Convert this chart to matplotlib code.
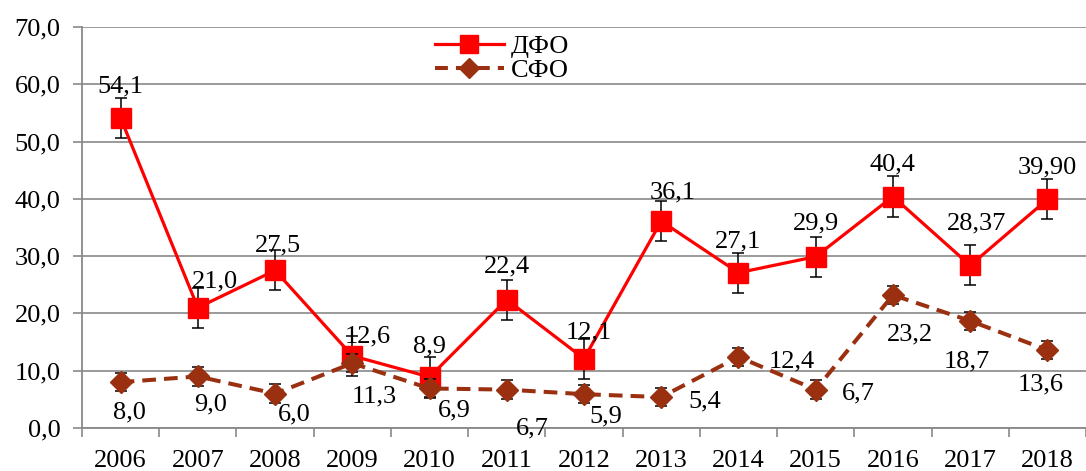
import matplotlib
matplotlib.use('Agg')
import matplotlib.pyplot as plt
from matplotlib.ticker import MultipleLocator, FixedLocator, FuncFormatter
from matplotlib.lines import Line2D

plt.rcParams['font.family'] = ['Liberation Serif', 'DejaVu Serif']

years = ['2006', '2007', '2008', '2009', '2010', '2011', '2012',
         '2013', '2014', '2015', '2016', '2017', '2018']
dfo = [54.1, 21.0, 27.5, 12.6, 8.9, 22.4, 12.1, 36.1, 27.1, 29.9, 40.4, 28.37, 39.90]
sfo = [8.0, 9.0, 6.0, 11.3, 6.9, 6.7, 5.9, 5.4, 12.4, 6.7, 23.2, 18.7, 13.6]
dfo_labels = ['54,1', '21,0', '27,5', '12,6', '8,9', '22,4', '12,1',
              '36,1', '27,1', '29,9', '40,4', '28,37', '39,90']
sfo_labels = ['8,0', '9,0', '6,0', '11,3', '6,9', '6,7', '5,9',
              '5,4', '12,4', '6,7', '23,2', '18,7', '13,6']
dfo_err = 3.5
sfo_err = 1.6
series_names = ['ДФО', 'СФО']

# label offsets (pixels, centre of digits relative to point; up positive)
dfo_off = [(0, 35), (17, 29), (3, 28), (15, 22), (0, 34), (0, 36), (5, 29),
           (11, 32), (0, 34), (0, 36), (0, 35), (6, 45), (0, 35)]
sfo_off = [(9, -27), (13, -25), (19, -18), (22, -30), (25, -19), (26, -36), (22, -19),
           (44, -1), (53, -2), (43, -1), (17, -36), (-3, -38), (-7, -31)]

RED = '#FF0000'
BROWN = '#9B3011'
GRID = '#898989'
FS = 19

W, H = 1086, 471
fig = plt.figure(figsize=(W / 100, H / 100), dpi=100)
ax = fig.add_axes([82 / W, (H - 428) / H, (1086 - 82) / W, 401.1 / H])

x = list(range(len(years)))

ax.errorbar(x, dfo, yerr=dfo_err, fmt='none', ecolor='black', elinewidth=1.1,
            capsize=4, capthick=1.1, zorder=3)
l1, = ax.plot(x, dfo, color=RED, lw=2.3, marker='s', markersize=15,
              markerfacecolor=RED, markeredgecolor=RED, zorder=4, label=series_names[0])
ax.errorbar(x, sfo, yerr=sfo_err, fmt='none', ecolor='black', elinewidth=1.1,
            capsize=4, capthick=1.1, zorder=5)
l2, = ax.plot(x, sfo, color=BROWN, lw=2.9, ls=(0, (3.4, 2.0)), marker='D', markersize=11.5,
              markerfacecolor=BROWN, markeredgecolor=BROWN, zorder=6, label=series_names[1])

half = 9
for i, (v, lab, (dx, dy)) in enumerate(zip(dfo, dfo_labels, dfo_off)):
    ax.annotate(lab, (i, v), xytext=(dx, dy - half), textcoords='offset pixels',
                ha='center', va='baseline', fontsize=FS, color='black', zorder=10,
                annotation_clip=False)
for i, (v, lab, (dx, dy)) in enumerate(zip(sfo, sfo_labels, sfo_off)):
    ax.annotate(lab, (i, v), xytext=(dx, dy - half), textcoords='offset pixels',
                ha='center', va='baseline', fontsize=FS, color='black', zorder=10,
                annotation_clip=False)

ax.set_xlim(-0.5, len(years) - 0.5)
ax.set_ylim(0, 70)
ax.yaxis.set_major_locator(MultipleLocator(10))
ax.yaxis.set_major_formatter(FuncFormatter(lambda v, p: f'{v:.1f}'.replace('.', ',')))
ax.set_xticks(x)
ax.set_xticklabels(years)
ax.xaxis.set_minor_locator(FixedLocator([i - 0.5 for i in range(len(years) + 1)]))

ax.grid(axis='y', color=GRID, lw=1.2, zorder=0)
ax.set_axisbelow(True)
for s in ['top', 'right']:
    ax.spines[s].set_visible(False)
for s in ['left', 'bottom']:
    ax.spines[s].set_color(GRID)
    ax.spines[s].set_linewidth(1.3)

ax.tick_params(axis='y', which='major', length=6.5, width=1.2, color=GRID,
               labelsize=FS, pad=9)
ax.tick_params(axis='x', which='major', length=0, labelsize=FS, pad=16)
ax.tick_params(axis='x', which='minor', length=6.5, width=1.2, color=GRID)

h1 = Line2D([], [], color=RED, lw=2.3, marker='s', markersize=13, markerfacecolor=RED,
            markeredgecolor=RED)
h2 = Line2D([], [], color=BROWN, lw=2.9, ls=(0, (3.2, 2.0)), marker='D', markersize=10,
            markerfacecolor=BROWN, markeredgecolor=BROWN)
fig.legend([h1, h2], series_names, loc='upper left', bbox_to_anchor=(435 / W, 1 - 35 / H),
           frameon=False, fontsize=FS, borderpad=0, borderaxespad=0, handlelength=2.6,
           handletextpad=0.27, labelspacing=0.0)

fig.savefig('out.png', dpi=100)
